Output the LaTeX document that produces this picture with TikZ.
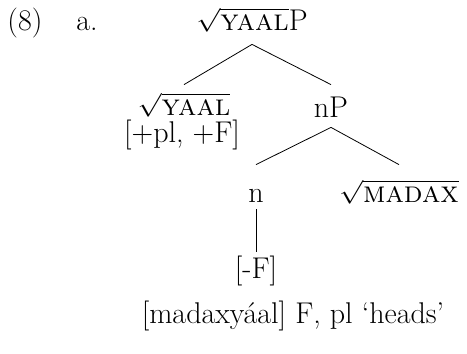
\documentclass[tikz,border=0pt]{standalone}
\usepackage{amssymb,amsmath}
\usepackage{graphicx}
\usepackage{tikz}
\usetikzlibrary{arrows,backgrounds}

% root sign over small caps, a bit lower than \sqrt gives
\newsavebox{\rtbox}
\newcommand{\rt}[1]{\sbox{\rtbox}{\textsc{#1}}\scalebox{1}[0.82]{$\sqrt{\vphantom{T}\rule{\wd\rtbox}{0pt}}$}\llap{\usebox{\rtbox}}}

\begin{document}
\begin{tikzpicture}[x=0.5pt,y=-0.5pt,font=\fontsize{15}{18}\selectfont] % tree (8a), 1 unit = 1px
      \useasboundingbox (0,0) rectangle (467,354);
      \tikzset{tn/.style={inner sep=0pt, anchor=base}}
      \node[tn, name=num] at (25,30){(8)};
      \node[tn, name=sub] at (87,30){a.};
      \node[tn, name=root, text height=11pt, text depth=7pt] at (252,30){\rt{yaal}P};
      \node[tn, name=yaal, text height=15pt] at (184,115){\rt{yaal}};
      \node[tn, name=feat] at (182,142){[+pl, +F]};
      \node[tn, name=np, text height=16pt, text depth=5pt] at (331,117){nP};
      \node[tn, name=n, text height=18.5pt, text depth=3.5pt] at (256,202){n};
      \node[tn, name=madax, text height=18.5pt] at (399,202){\rt{madax}};
      \node[tn, name=negf, text height=13pt] at (256,278){[-F]};
      \node[tn, name=gloss] at (293,323){[madaxyáal] F, pl ‘heads’};
      \draw (root.south) -- (yaal.north);
      \draw (root.south) -- (np.north);
      \draw (np.south) -- (n.north);
      \draw (np.south) -- (madax.north);
      \draw (n.south) -- (negf.north);
   \end{tikzpicture}
\end{document}
